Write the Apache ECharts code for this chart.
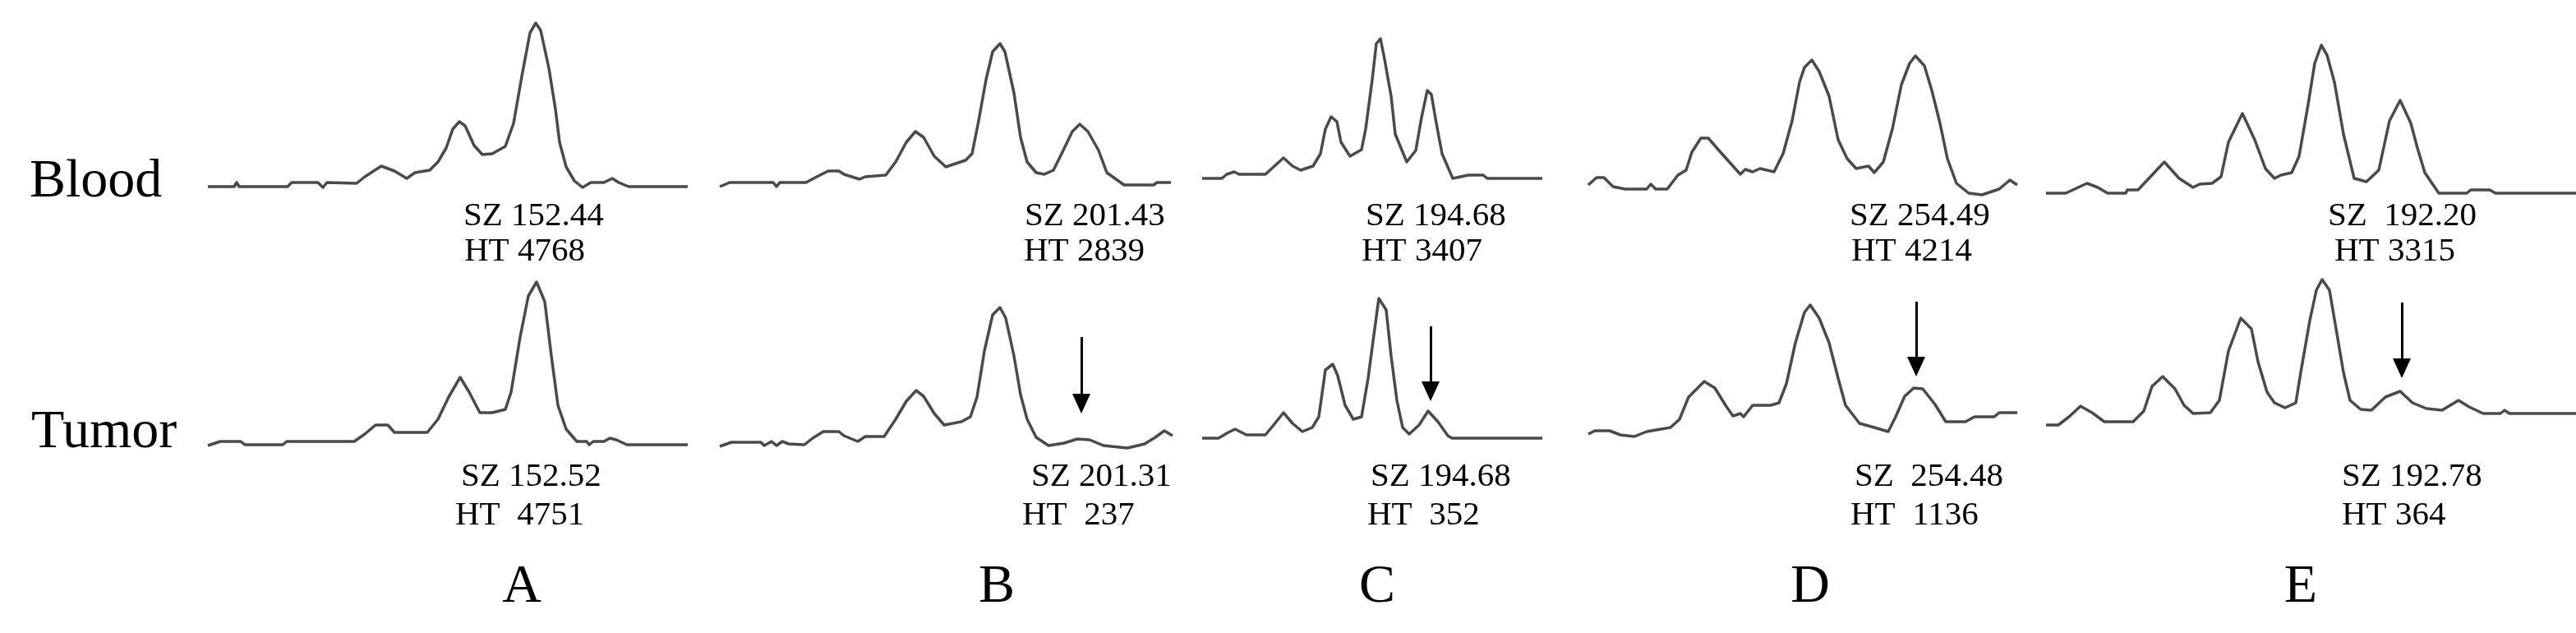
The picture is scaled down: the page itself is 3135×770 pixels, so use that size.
<!DOCTYPE html>
<html>
<head>
<meta charset="utf-8">
<script src="https://cdn.jsdelivr.net/npm/echarts@6/dist/echarts.min.js"></script>
<style>html,body{margin:0;padding:0;background:#fff;}#c{width:3135px;height:770px;}</style>
</head>
<body>
<div id="c"></div>
<script>
// ---------- DATA ----------
const panels = ['A', 'B', 'C', 'D', 'E'];
const rowNames = ['Blood', 'Tumor'];

const bloodSZ = ['SZ 152.44', 'SZ 201.43', 'SZ 194.68', 'SZ 254.49', 'SZ  192.20'];
const bloodHT = ['HT 4768', 'HT 2839', 'HT 3407', 'HT 4214', 'HT 3315'];
const tumorSZ = ['SZ 152.52', 'SZ 201.31', 'SZ 194.68', 'SZ  254.48', 'SZ 192.78'];
const tumorHT = ['HT  4751', 'HT  237', 'HT  352', 'HT  1136', 'HT 364'];

// traces: [scan position, signal height]
const bloodA = [[0,13],[32,13],[35,18],[38,13],[97,13],[102,18],[134,18],[140,12],[145,18],[181,17],[191,25],[211,38],[227,32],[242,23],[252,30],[270,33],[280,43],[290,60],[298,83],[306,92],[313,87],[324,63],[334,52],[346,53],[362,62],[372,90],[382,147],[392,200],[399,212],[405,203],[415,157],[423,107],[428,67],[436,37],[446,20],[456,12],[466,18],[482,18],[492,23],[500,18],[512,13],[584,13]];
const bloodB = [[0,13],[12,18],[65,18],[69,13],[73,18],[105,18],[118,25],[132,32],[145,32],[151,28],[170,22],[177,25],[202,27],[214,43],[227,67],[238,80],[248,73],[261,50],[275,37],[284,40],[299,45],[307,53],[315,93],[324,143],[332,177],[341,187],[347,177],[358,127],[366,73],[374,43],[385,30],[395,28],[406,33],[416,53],[429,80],[438,89],[448,80],[461,57],[471,30],[492,15],[528,15],[532,18],[549,18]];
const bloodC = [[0,23],[24,23],[30,28],[39,31],[45,28],[77,28],[87,37],[99,48],[110,38],[120,33],[135,38],[144,53],[150,83],[157,98],[164,92],[169,67],[180,50],[194,58],[199,83],[207,143],[212,187],[217,193],[222,168],[230,123],[235,77],[249,43],[260,57],[267,97],[274,130],[279,125],[285,90],[292,53],[305,23],[324,27],[342,27],[347,23],[414,23]];
const bloodD = [[0,15],[10,24],[19,24],[30,13],[45,10],[71,10],[76,16],[82,10],[96,10],[109,27],[119,33],[126,55],[137,72],[146,72],[159,57],[185,28],[191,34],[200,31],[209,35],[226,31],[237,53],[248,93],[257,140],[263,158],[272,167],[281,153],[293,123],[304,70],[315,47],[326,35],[341,38],[348,30],[359,43],[370,83],[381,137],[391,163],[398,172],[409,160],[418,130],[428,90],[437,47],[448,17],[463,5],[479,3],[500,10],[513,21],[522,15]];
const bloodE = [[0,5],[24,5],[50,17],[63,12],[75,5],[97,5],[99,9],[112,9],[144,43],[162,23],[179,12],[187,16],[202,17],[213,25],[222,67],[239,102],[254,70],[267,35],[278,23],[286,27],[299,30],[308,50],[319,113],[327,163],[335,185],[342,173],[351,140],[362,77],[375,23],[390,19],[405,33],[418,93],[431,118],[444,90],[452,60],[461,30],[478,5],[512,5],[517,9],[540,9],[547,5],[645,5]];

const tumorA = [[0,8],[15,13],[40,13],[45,9],[91,9],[96,13],[178,13],[191,22],[204,33],[219,33],[227,24],[267,24],[280,40],[293,67],[307,91],[318,73],[331,48],[346,48],[362,52],[369,73],[380,140],[390,190],[400,207],[410,183],[418,117],[426,57],[436,28],[449,13],[461,13],[464,9],[469,13],[482,13],[489,17],[497,15],[510,9],[584,9]];
const tumorB = [[0,7],[14,12],[50,12],[54,8],[63,13],[69,8],[76,13],[84,10],[103,9],[113,17],[126,25],[145,25],[151,20],[168,13],[177,19],[200,19],[214,40],[227,62],[239,75],[248,68],[261,47],[273,33],[294,37],[305,43],[313,67],[322,123],[332,167],[341,176],[348,163],[358,117],[366,70],[374,40],[385,18],[400,8],[419,11],[435,16],[450,15],[467,8],[496,5],[517,10],[530,18],[541,26],[551,20]];
const tumorC = [[0,17],[20,17],[30,23],[40,28],[54,21],[77,21],[87,33],[99,48],[110,35],[122,25],[134,30],[142,43],[150,100],[159,107],[165,93],[174,57],[184,40],[194,43],[202,90],[210,150],[215,187],[224,173],[230,117],[237,63],[244,30],[252,22],[264,33],[275,50],[287,37],[299,20],[304,17],[414,17]];
const tumorD = [[0,22],[8,26],[26,26],[39,21],[56,19],[71,25],[100,30],[111,40],[122,67],[141,86],[154,78],[167,57],[176,44],[185,47],[189,43],[200,57],[222,57],[232,60],[241,83],[252,133],[263,170],[270,179],[281,163],[293,133],[304,90],[313,57],[330,35],[348,30],[365,25],[374,43],[385,68],[396,78],[407,77],[422,58],[435,37],[459,37],[470,43],[494,43],[500,48],[522,48]];
const tumorE = [[0,33],[15,33],[28,43],[42,56],[56,48],[71,37],[106,37],[119,50],[129,80],[142,92],[157,77],[168,57],[179,47],[200,48],[211,63],[222,123],[237,163],[250,150],[258,110],[269,73],[278,60],[291,54],[304,60],[310,97],[321,160],[329,197],[336,210],[345,197],[353,150],[362,97],[370,63],[383,52],[396,51],[413,67],[431,74],[446,60],[463,53],[482,51],[502,63],[515,55],[532,47],[553,47],[558,51],[564,47],[645,47]];

// arrows on tumor traces: [position, from signal, tip signal]
const tumorArrows = [null, [440,140,47], [278,153,62], [399,183,92], [433,182,90]];

const bloodTraces = [bloodA, bloodB, bloodC, bloodD, bloodE];
const tumorTraces = [tumorA, tumorB, tumorC, tumorD, tumorE];

// ---------- LAYOUT ----------
const panelLeft = [253, 876, 1463, 1933, 2490];
const panelWidth = [584, 552, 414, 522, 645];
const rowTop = [20, 330];
const rowHeight = 220;
const sigMax = 220;

const bloodSZx = [564, 1247, 1662, 2251, 2833];
const bloodHTx = [565, 1246, 1657, 2253, 2841];
const tumorSZx = [561, 1255, 1668, 2257, 2850];
const tumorHTx = [554, 1244, 1664, 2252, 2850];
const letterX = [635, 1213, 1676, 2203, 2800];

const FONT = '"Liberation Serif", "Times New Roman", serif';
const traceColor = '#4a4a4a';
const arrowHead = [22, 24];

const grids = [], xAxes = [], yAxes = [], series = [];
[bloodTraces, tumorTraces].forEach((traces, r) => {
  traces.forEach((tr, i) => {
    const gi = grids.length;
    grids.push({left: panelLeft[i], width: panelWidth[i], top: rowTop[r], height: rowHeight});
    xAxes.push({type: 'value', gridIndex: gi, min: 0, max: panelWidth[i], show: false});
    yAxes.push({type: 'value', gridIndex: gi, min: 0, max: sigMax, show: false});
    const s = {
      type: 'line', xAxisIndex: gi, yAxisIndex: gi, data: tr,
      symbol: 'none', smooth: false, clip: false,
      lineStyle: {color: traceColor, width: 3.5, join: 'round'},
      silent: true
    };
    if (r === 1 && tumorArrows[i]) {
      const a = tumorArrows[i];
      s.markLine = {
        silent: true, animation: false,
        symbol: ['none', 'triangle'], symbolSize: arrowHead,
        label: {show: false},
        lineStyle: {color: '#000', width: 3, type: 'solid'},
        data: [[{coord: [a[0], a[1]]}, {coord: [a[0], a[2] + arrowHead[1] / 2]}]]
      };
    }
    series.push(s);
  });
});

function txt(text, x, y, size, align) {
  return {
    type: 'text', x: x, y: y, silent: true,
    style: {
      text: text, font: size + 'px ' + FONT, fill: '#000',
      textAlign: align, align: align,
      textVerticalAlign: 'middle', verticalAlign: 'middle'
    }
  };
}

const graphics = [];
graphics.push(txt(rowNames[0], 36, 222, 66, 'left'));
graphics.push(txt(rowNames[1], 38, 527, 66, 'left'));
panels.forEach((p, i) => {
  graphics.push(txt(bloodSZ[i], bloodSZx[i], 263, 41, 'left'));
  graphics.push(txt(bloodHT[i], bloodHTx[i], 306, 41, 'left'));
  graphics.push(txt(tumorSZ[i], tumorSZx[i], 580, 41, 'left'));
  graphics.push(txt(tumorHT[i], tumorHTx[i], 627, 41, 'left'));
  graphics.push(txt(p, letterX[i], 715, 66, 'center'));
});

const chart = echarts.init(document.getElementById('c'), null, {renderer: 'canvas'});
chart.setOption({
  backgroundColor: '#fff',
  animation: false,
  grid: grids, xAxis: xAxes, yAxis: yAxes, series: series,
  graphic: graphics
});
</script>
</body>
</html>
